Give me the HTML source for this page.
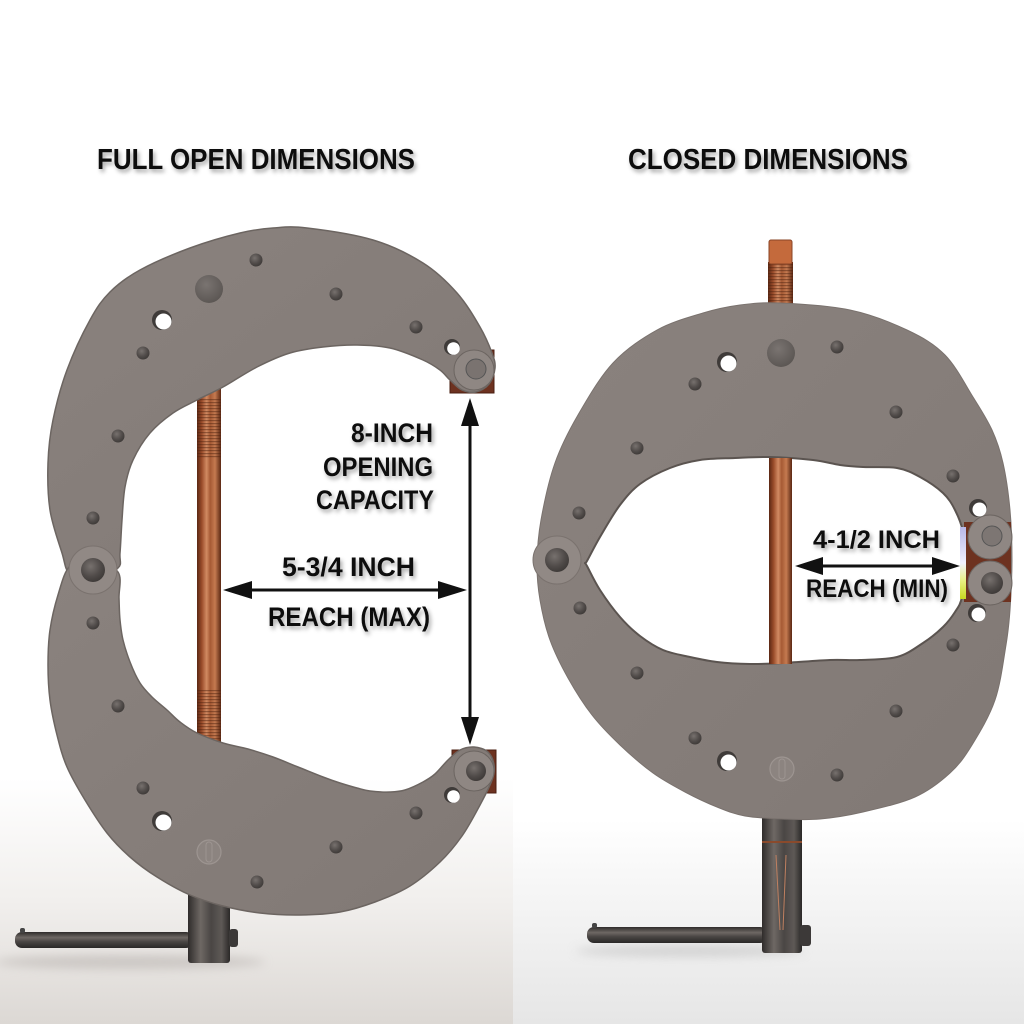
<!DOCTYPE html>
<html><head><meta charset="utf-8"><style>
html,body{margin:0;padding:0;background:#fff;width:1024px;height:1024px;overflow:hidden}
svg{display:block}
text{font-family:"Liberation Sans",Arial,sans-serif;font-weight:bold;fill:#111}
</style></head><body>
<svg width="1024" height="1024" viewBox="0 0 1024 1024" xmlns="http://www.w3.org/2000/svg">
<defs>
<linearGradient id="bgL" x1="0" y1="0" x2="0" y2="1"><stop offset="0" stop-color="#fff"/><stop offset="0.76" stop-color="#fff"/><stop offset="0.88" stop-color="#f1efed"/><stop offset="1" stop-color="#dcd8d4"/></linearGradient>
<linearGradient id="bgR" x1="0" y1="0" x2="0" y2="1"><stop offset="0" stop-color="#fff"/><stop offset="0.8" stop-color="#fff"/><stop offset="0.9" stop-color="#f2f2f2"/><stop offset="1" stop-color="#e6e6e6"/></linearGradient>
<linearGradient id="plate" x1="0" y1="0" x2="1" y2="1"><stop offset="0" stop-color="#8a827e"/><stop offset="1" stop-color="#817975"/></linearGradient>
<linearGradient id="rod" x1="0" y1="0" x2="1" y2="0"><stop offset="0" stop-color="#5a2713"/><stop offset="0.2" stop-color="#9a4c2a"/><stop offset="0.4" stop-color="#d18a62"/><stop offset="0.55" stop-color="#a65a34"/><stop offset="0.75" stop-color="#c57a50"/><stop offset="1" stop-color="#5a2713"/></linearGradient>
<linearGradient id="gm" x1="0" y1="0" x2="1" y2="0"><stop offset="0" stop-color="#2f2c2b"/><stop offset="0.3" stop-color="#6e6864"/><stop offset="0.55" stop-color="#4a4644"/><stop offset="0.8" stop-color="#5e5956"/><stop offset="1" stop-color="#2a2827"/></linearGradient>
<linearGradient id="gmh" x1="0" y1="0" x2="0" y2="1"><stop offset="0" stop-color="#2f2c2b"/><stop offset="0.35" stop-color="#6e6864"/><stop offset="0.6" stop-color="#4a4644"/><stop offset="1" stop-color="#2a2827"/></linearGradient>
<radialGradient id="dot" cx="0.4" cy="0.35" r="0.7"><stop offset="0" stop-color="#77716e"/><stop offset="0.6" stop-color="#504b49"/><stop offset="1" stop-color="#3c3836"/></radialGradient>
<radialGradient id="big" cx="0.4" cy="0.35" r="0.7"><stop offset="0" stop-color="#7a7471"/><stop offset="1" stop-color="#5a5552"/></radialGradient>
<linearGradient id="strip" x1="0" y1="0" x2="0" y2="1"><stop offset="0" stop-color="#b8b8e8"/><stop offset="0.5" stop-color="#f0f0ff"/><stop offset="0.75" stop-color="#e8f080"/><stop offset="1" stop-color="#c8d820"/></linearGradient>
<pattern id="thr" width="4" height="3" patternUnits="userSpaceOnUse"><rect width="4" height="1.2" fill="#4a200e" opacity="0.45"/></pattern>
<filter id="ts" x="-10%" y="-40%" width="130%" height="200%"><feDropShadow dx="2" dy="3" stdDeviation="2" flood-color="#000" flood-opacity="0.35"/></filter>
<filter id="bl" x="-20%" y="-200%" width="140%" height="500%"><feGaussianBlur stdDeviation="5"/></filter>
</defs>

<!-- backgrounds -->
<rect x="0" y="0" width="513" height="1024" fill="url(#bgL)"/>
<rect x="513" y="0" width="511" height="1024" fill="url(#bgR)"/>
<ellipse cx="130" cy="962" rx="135" ry="7" fill="#b9b4b0" opacity="0.6" filter="url(#bl)"/>
<ellipse cx="690" cy="951" rx="115" ry="6" fill="#c0c0c0" opacity="0.6" filter="url(#bl)"/>

<!-- ===== LEFT CLAMP ===== -->
<!-- rod -->
<rect x="197" y="385" width="24" height="375" fill="url(#rod)"/>
<rect x="197" y="398" width="24" height="60" fill="url(#thr)"/>
<rect x="197" y="690" width="24" height="55" fill="url(#thr)"/>
<!-- collar + handle -->
<rect x="15" y="932" width="178" height="16" rx="7" fill="url(#gmh)"/>
<rect x="20" y="928" width="5" height="5" rx="2" fill="#444"/>
<rect x="188" y="890" width="42" height="73" rx="3" fill="url(#gm)"/>
<rect x="229" y="929" width="9" height="18" rx="3" fill="#3c3938"/>
<!-- copper blocks -->
<rect x="450" y="350" width="44" height="43" fill="#6d3220" stroke="#4a1f12" stroke-width="1"/>
<rect x="452" y="750" width="44" height="43" fill="#6d3220" stroke="#4a1f12" stroke-width="1"/>
<!-- plates -->
<path class="sm" fill="url(#plate)" stroke="#6c6561" stroke-width="1.5" d="M118,568 L120,553 L122,520 L125,487 L133,460 L150,433 L173,413 L197,400 L223,387 L257,367 L290,353 L323,347 L357,345 L390,348 L423,360 L440,370 L450,380 L462,390 L476,392 L489,384 L495,368 L492,353 L480,327 L457,293 L423,263 L373,240 L307,228 L273,228 L240,233 L190,248 L140,270 L110,292 L90,320 L67,370 L53,420 L48,463 L50,510 L62,553 L70,574 L93,578 Z"/>
<path class="sm" fill="url(#plate)" stroke="#6c6561" stroke-width="1.5" d="M70,566 L58,595 L50,630 L48,665 L50,700 L57,735 L67,767 L85,800 L107,833 L130,857 L157,877 L190,895 L223,906 L260,913 L300,915 L340,912 L375,902 L410,886 L440,862 L462,836 L480,805 L492,780 L494,765 L488,752 L474,747 L460,750 L448,760 L435,774 L423,782 L405,790 L390,792 L370,791 L357,788 L340,783 L323,777 L298,767 L273,757 L248,749 L223,743 L197,733 L180,722 L167,710 L152,697 L140,683 L130,662 L123,640 L120,620 L119,598 L118,572 L93,562 Z"/>
<!-- hinge -->
<circle cx="93" cy="570" r="24" fill="#918985" stroke="#7a726e" stroke-width="1"/>
<circle cx="93" cy="570" r="12" fill="url(#dot)"/>
<!-- tips -->
<circle cx="474" cy="370" r="20" fill="#8f8783" stroke="#6c6561"/>
<circle cx="476" cy="369" r="10" fill="#7a7370" stroke="#555"/>
<circle cx="474" cy="771" r="20" fill="#8f8783" stroke="#6c6561"/>
<circle cx="476" cy="771" r="10" fill="url(#dot)"/>
<!-- holes left -->
<g>
<circle cx="209" cy="289" r="14" fill="url(#big)"/>
<circle cx="162" cy="320" r="10" fill="#3f3b39"/><circle cx="163.5" cy="321.5" r="8" fill="#fff"/>
<circle cx="452" cy="347" r="8" fill="#3f3b39"/><circle cx="453.5" cy="348.5" r="6.3" fill="#fff"/>
<circle cx="162" cy="821" r="10" fill="#3f3b39"/><circle cx="163.5" cy="822.5" r="8" fill="#fff"/>
<circle cx="452" cy="795" r="8" fill="#3f3b39"/><circle cx="453.5" cy="796.5" r="6.3" fill="#fff"/>
<circle cx="209" cy="852" r="12" fill="#8c8480" stroke="#9d9591" stroke-width="1.2"/>
<rect x="206" y="842" width="6" height="20" rx="3" fill="none" stroke="#9d9591" stroke-width="1"/>
</g>
<g fill="url(#dot)">
<circle cx="256" cy="260" r="6.5"/><circle cx="336" cy="294" r="6.5"/><circle cx="416" cy="327" r="6.5"/>
<circle cx="143" cy="353" r="6.5"/><circle cx="118" cy="436" r="6.5"/><circle cx="93" cy="518" r="6.5"/>
<circle cx="93" cy="623" r="6.5"/><circle cx="118" cy="706" r="6.5"/><circle cx="143" cy="788" r="6.5"/>
<circle cx="257" cy="882" r="6.5"/><circle cx="336" cy="847" r="6.5"/><circle cx="416" cy="813" r="6.5"/>
</g>

<!-- ===== RIGHT CLAMP ===== -->
<!-- top stub -->
<rect x="768" y="262" width="25" height="45" fill="url(#rod)"/>
<rect x="768" y="262" width="25" height="45" fill="url(#thr)"/>
<rect x="769" y="240" width="23" height="24" rx="2" fill="#c46a3c" stroke="#8a4426" stroke-width="1"/>
<!-- collar + handle -->
<rect x="587" y="927" width="180" height="16" rx="7" fill="url(#gmh)"/>
<rect x="592" y="923" width="5" height="5" rx="2" fill="#444"/>
<rect x="762" y="815" width="40" height="138" rx="3" fill="url(#gm)"/>
<rect x="762" y="841" width="40" height="2" fill="#8a4a2c"/>
<line x1="776" y1="855" x2="780" y2="930" stroke="#c08060" stroke-width="1"/>
<line x1="786" y1="855" x2="783" y2="930" stroke="#c08060" stroke-width="1"/>
<rect x="800" y="925" width="11" height="21" rx="3" fill="#3c3938"/>
<!-- disc -->
<path class="sm" fill="url(#plate)" stroke="#7a726e" stroke-width="1" d="M780,303 L850,310 L907,330 L945,355 L973,397 L992,430 L1003,463 L1010,510 L1012,560 L1010,610 L1006,645 L995,700 L972,745 L950,773 L915,797 L863,812 L820,819 L783,819 L745,816 L717,807 L685,792 L653,773 L620,745 L592,715 L568,678 L550,640 L540,600 L537,563 L541,520 L555,463 L578,415 L613,363 L657,330 L703,313 L740,305 Z"/>
<!-- copper block right -->
<rect x="964" y="522" width="47" height="80" fill="#6d3220"/>
<!-- hole -->
<path class="sm" fill="#fff" stroke="#5b5450" stroke-width="2" d="M587,561 L585,563 L587,566 L600,590 L620,617 L640,636 L663,650 L690,657 L717,662 L750,664 L783,663 L830,660 L860,660 L897,657 L923,643 L943,627 L955,612 L962,597 L965,565 L963,532 L955,510 L943,493 L920,477 L897,468 L863,467 L840,465 L813,460 L770,457 L735,458 L700,460 L670,468 L640,484 L620,505 L600,537 Z"/>
<rect x="960" y="527" width="6" height="72" fill="url(#strip)"/>
<!-- rod inside -->
<rect x="769" y="458" width="23" height="206" fill="url(#rod)"/>
<!-- hinge & tips -->
<circle cx="557" cy="560" r="24" fill="#918985" stroke="#7a726e"/>
<circle cx="557" cy="560" r="12" fill="url(#dot)"/>
<circle cx="990" cy="537" r="22" fill="#8f8783" stroke="#6c6561"/>
<circle cx="992" cy="536" r="10" fill="#7d7673" stroke="#555"/>
<circle cx="990" cy="583" r="22" fill="#8f8783" stroke="#6c6561"/>
<circle cx="992" cy="583" r="11" fill="url(#dot)"/>
<!-- holes right -->
<circle cx="781" cy="353" r="14" fill="url(#big)"/>
<circle cx="727" cy="362" r="10" fill="#3f3b39"/><circle cx="728.5" cy="363.5" r="8" fill="#fff"/>
<circle cx="978" cy="508" r="9" fill="#3f3b39"/><circle cx="979.5" cy="509.5" r="7" fill="#fff"/>
<circle cx="977" cy="613" r="9" fill="#3f3b39"/><circle cx="978.5" cy="614.5" r="7" fill="#fff"/>
<circle cx="727" cy="761" r="10" fill="#3f3b39"/><circle cx="728.5" cy="762.5" r="8" fill="#fff"/>
<circle cx="782" cy="769" r="12" fill="#8c8480" stroke="#9d9591" stroke-width="1.2"/>
<rect x="779" y="759" width="6" height="20" rx="3" fill="none" stroke="#9d9591" stroke-width="1"/>
<g fill="url(#dot)">
<circle cx="837" cy="347" r="6.5"/><circle cx="695" cy="384" r="6.5"/><circle cx="896" cy="412" r="6.5"/>
<circle cx="637" cy="448" r="6.5"/><circle cx="579" cy="513" r="6.5"/><circle cx="953" cy="476" r="6.5"/>
<circle cx="953" cy="645" r="6.5"/><circle cx="580" cy="608" r="6.5"/><circle cx="637" cy="673" r="6.5"/>
<circle cx="896" cy="711" r="6.5"/><circle cx="695" cy="738" r="6.5"/><circle cx="837" cy="775" r="6.5"/>
</g>

<!-- ===== ARROWS ===== -->
<g fill="#111" stroke="none">
<rect x="245" y="588.5" width="200" height="3"/>
<polygon points="223,590 252,581 252,599"/>
<polygon points="467,590 438,581 438,599"/>
<rect x="468.5" y="420" width="3" height="303"/>
<polygon points="470,398 461,426 479,426"/>
<polygon points="470,745 461,717 479,717"/>
<rect x="818" y="564.5" width="120" height="3"/>
<polygon points="795,566 823,557 823,575"/>
<polygon points="960,566 932,557 932,575"/>
</g>

<!-- ===== TEXT ===== -->
<g filter="url(#ts)">
<text x="97" y="169" font-size="29" textLength="318" lengthAdjust="spacingAndGlyphs">FULL OPEN DIMENSIONS</text>
<text x="628" y="169" font-size="29" textLength="280" lengthAdjust="spacingAndGlyphs">CLOSED DIMENSIONS</text>
<text x="351" y="442" font-size="27" textLength="82" lengthAdjust="spacingAndGlyphs">8-INCH</text>
<text x="323" y="476" font-size="27" textLength="110" lengthAdjust="spacingAndGlyphs">OPENING</text>
<text x="316" y="509" font-size="27" textLength="118" lengthAdjust="spacingAndGlyphs">CAPACITY</text>
<text x="282" y="576" font-size="27" textLength="133" lengthAdjust="spacingAndGlyphs">5-3/4 INCH</text>
<text x="268" y="626" font-size="27" textLength="162" lengthAdjust="spacingAndGlyphs">REACH (MAX)</text>
<text x="813" y="548" font-size="25" textLength="127" lengthAdjust="spacingAndGlyphs">4-1/2 INCH</text>
<text x="806" y="597" font-size="25" textLength="142" lengthAdjust="spacingAndGlyphs">REACH (MIN)</text>
</g>
</svg>
<script>
document.querySelectorAll('path.sm').forEach(function(p){
 var n=p.getAttribute('d').match(/-?\d+(\.\d+)?/g).map(Number);
 var P=[];for(var i=0;i+1<n.length;i+=2)P.push([n[i],n[i+1]]);
 var N=P.length;var d='M'+P[0][0]+','+P[0][1];
 for(var i=0;i<N;i++){var p0=P[(i-1+N)%N],p1=P[i],p2=P[(i+1)%N],p3=P[(i+2)%N];
  var c1x=p1[0]+(p2[0]-p0[0])/6,c1y=p1[1]+(p2[1]-p0[1])/6,c2x=p2[0]-(p3[0]-p1[0])/6,c2y=p2[1]-(p3[1]-p1[1])/6;
  d+='C'+c1x.toFixed(1)+','+c1y.toFixed(1)+' '+c2x.toFixed(1)+','+c2y.toFixed(1)+' '+p2[0]+','+p2[1];}
 p.setAttribute('d',d+'Z');
});
</script>
</body></html>
